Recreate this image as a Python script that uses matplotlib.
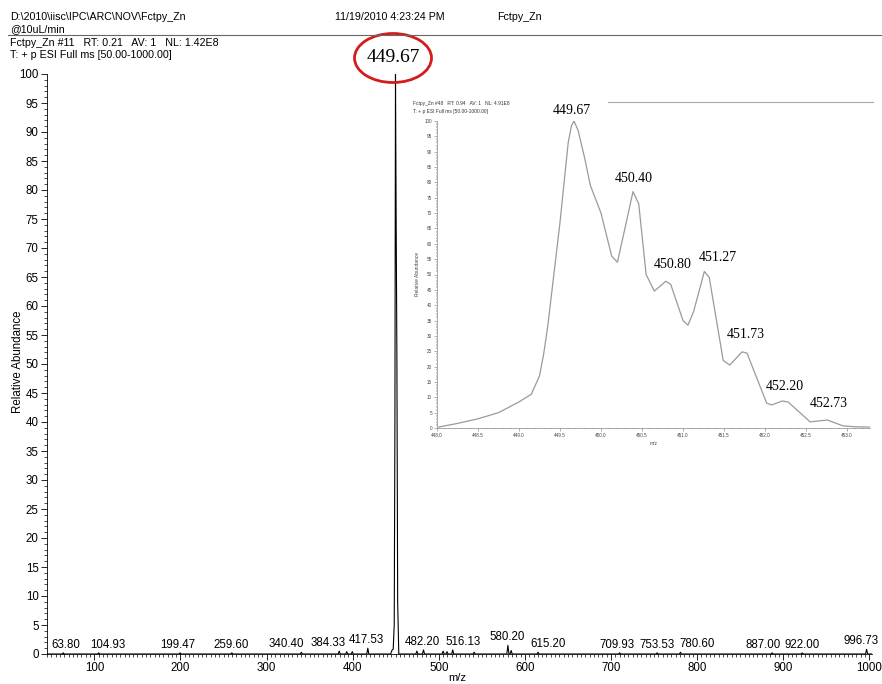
import matplotlib
matplotlib.use("Agg")
import matplotlib.pyplot as plt
from matplotlib.patches import Ellipse
from matplotlib.lines import Line2D
from matplotlib.ticker import MultipleLocator

plt.rcParams['font.family'] = ['Liberation Sans', 'DejaVu Sans']

# labelled small peaks of the full scan
peak_mz = [63.80, 104.93, 199.47, 259.60, 340.40, 384.33, 417.53, 482.20, 516.13,
           580.20, 615.20, 709.93, 753.53, 780.60, 887.00, 922.00, 996.73]
peak_int = [0.2, 0.2, 0.2, 0.2, 0.3, 0.5, 1.0, 0.7, 0.7,
            1.5, 0.3, 0.2, 0.2, 0.3, 0.2, 0.2, 0.8]
# horizontal shift of each label from its peak, pixels
label_dx = [3, 9, -2, -1, -15, -11, -1, -1, 10, -1, 10, -3, 0, 17, -9, 0, -6]
# unlabelled noise peaks
noise_mz = [393.0, 399.5, 474.5, 505.0, 509.5, 541.0, 584.0]
noise_int = [0.4, 0.4, 0.5, 0.5, 0.4, 0.3, 0.6]
# base peak profile
base_mz = [444.0, 445.8, 447.0, 448.2, 449.0, 449.67, 450.4, 451.3, 452.2, 453.5]
base_int = [0.0, 0.7, 0.8, 5, 40, 100, 76, 51, 9, 0.0]

# zoomed isotope pattern (inset)
ins_mz = [448.02, 448.25, 448.5, 448.75, 449.0, 449.15, 449.25, 449.3, 449.35, 449.5, 449.6,
          449.64, 449.67, 449.72, 449.8, 449.87, 450.0, 450.13, 450.2, 450.3, 450.39, 450.46,
          450.55, 450.65, 450.79, 450.85, 451.0, 451.06, 451.13, 451.26, 451.32, 451.49,
          451.57, 451.72, 451.78, 452.02, 452.08, 452.21, 452.28, 452.55, 452.76, 452.95,
          453.1, 453.28]
ins_int = [0.3, 1.5, 3, 5, 8.5, 11, 17, 24, 33, 67, 93,
           98.5, 100, 97, 88, 79, 70, 56, 54, 66, 77, 73,
           50, 44.6, 47.8, 46.8, 35, 33.5, 38, 51, 49, 22,
           20.5, 24.8, 24.4, 8.1, 7.5, 8.8, 8.5, 2.0, 2.6, 0.7,
           0.4, 0.3]
ins_labels = ["449.67", "450.40", "450.80", "451.27", "451.73", "452.20", "452.73"]
ins_label_x = [449.67, 450.39, 450.79, 451.26, 451.72, 452.21, 452.76]
ins_label_y = [100, 77, 47.8, 51, 24.8, 8.8, 2.6]
ins_offsets = [(-2, 11), (1, 13), (7, 17), (13, 14), (4, 17), (3, 14), (1, 17)]

W, H = 882, 684
fig = plt.figure(figsize=(W / 100, H / 100), dpi=100)

# header
hdr = dict(fontsize=7.7, va='center', ha='left')
fig.text(10 / W, 1 - 17 / H, r"D:\2010\iisc\IPC\ARC\NOV\Fctpy_Zn", **hdr)
fig.text(10 / W, 1 - 29 / H, "@10uL/min", **hdr)
fig.text(335 / W, 1 - 17 / H, "11/19/2010 4:23:24 PM", **hdr)
fig.text(497 / W, 1 - 17 / H, "Fctpy_Zn", **hdr)
fig.add_artist(Line2D([8 / W, 1.0], [1 - 35 / H, 1 - 35 / H], transform=fig.transFigure,
                      color='#666666', lw=0.8))
fig.text(10 / W, 1 - 43 / H, "Fctpy_Zn #11   RT: 0.21   AV: 1   NL: 1.42E8", **hdr)
fig.text(10 / W, 1 - 55 / H, "T: + p ESI Full ms [50.00-1000.00]", **hdr)

# main spectrum
ax = fig.add_axes([47 / W, 1 - 654 / H, (872 - 47) / W, (654 - 74) / H])
sticks = sorted(zip(peak_mz + noise_mz, peak_int + noise_int))
xs, ys = [45.0], [0.0]
for m, h in sticks:
    if m > base_mz[0] and xs[-1] < base_mz[0]:
        xs += base_mz
        ys += base_int
    xs += [m - 1.2, m, m + 1.2]
    ys += [0.0, h, 0.0]
xs.append(1003.0)
ys.append(0.0)
ax.plot(xs, ys, color='black', lw=0.8)
for m, h, dx in zip(peak_mz, peak_int, label_dx):
    ax.annotate(f"{m:.2f}", (m, h), xytext=(dx, 2), textcoords='offset pixels',
                ha='center', va='bottom', fontsize=8.3)

ax.set_xlim(45, 1003)
ax.set_ylim(0, 100)
ax.xaxis.set_major_locator(MultipleLocator(100))
ax.xaxis.set_minor_locator(MultipleLocator(5))
ax.yaxis.set_major_locator(MultipleLocator(5))
ax.yaxis.set_minor_locator(MultipleLocator(1))
ax.tick_params(labelsize=8.3, length=4, width=0.6, pad=2)
ax.tick_params(which='minor', length=2, width=0.5)
for s in ['top', 'right']:
    ax.spines[s].set_visible(False)
for s in ['left', 'bottom']:
    ax.spines[s].set_linewidth(0.6)
ax.patch.set_alpha(0)
fig.text(457 / W, 1 - 678 / H, "m/z", fontsize=8, ha='center', va='center')
fig.text(18 / W, 1 - 362 / H, "Relative Abundance", fontsize=8.3, ha='center',
         va='center', rotation=90)

# base peak label with red ring
fig.text(393 / W, 1 - 57 / H, "449.67", fontsize=14, family='Liberation Serif',
         ha='center', va='center')
fig.add_artist(Ellipse((393 / W, 1 - 58 / H), 77 / W, 49 / H, transform=fig.transFigure,
                       fill=False, edgecolor='#d41c1c', lw=2))

# inset
ins = fig.add_axes([437 / W, 1 - 428 / H, 433 / W, 307 / H])
ins.plot(ins_mz, ins_int, color='#9a9a9a', lw=0.9)
for lab, x, y, off in zip(ins_labels, ins_label_x, ins_label_y, ins_offsets):
    ins.annotate(lab, (x, y), xytext=off, textcoords='offset pixels', ha='center',
                 va='center', fontsize=10, family='Liberation Serif')
ins.set_xlim(448.0, 453.28)
ins.set_ylim(0, 100)
ins.xaxis.set_major_locator(MultipleLocator(0.5))
ins.xaxis.set_minor_locator(MultipleLocator(0.1))
ins.yaxis.set_major_locator(MultipleLocator(5))
ins.yaxis.set_minor_locator(MultipleLocator(1))
ins.tick_params(labelsize=3.3, length=2, width=0.4, pad=1.5, colors='#777777',
                labelcolor='#444444')
ins.tick_params(which='minor', length=1, width=0.3)
for s in ['top', 'right']:
    ins.spines[s].set_visible(False)
for s in ['left', 'bottom']:
    ins.spines[s].set_linewidth(0.5)
    ins.spines[s].set_color('#888888')
ins.set_xlabel("m/z", fontsize=3.5, labelpad=2, color='#444444')
ins.set_ylabel("Relative Abundance", fontsize=3.5, labelpad=3, color='#444444')
ins.patch.set_alpha(0)
fig.text(413 / W, 1 - 104 / H, "Fctpy_Zn #48   RT: 0.94   AV: 1   NL: 4.91E8",
         fontsize=3.5, va='center', color='#333333')
fig.text(413 / W, 1 - 111 / H, "T: + p ESI Full ms [50.00-1000.00]",
         fontsize=3.5, va='center', color='#333333')
fig.add_artist(Line2D([608 / W, 873 / W], [1 - 102 / H, 1 - 102 / H], transform=fig.transFigure,
                      color='#aaaaaa', lw=0.8))

fig.savefig("out.png", dpi=100)
